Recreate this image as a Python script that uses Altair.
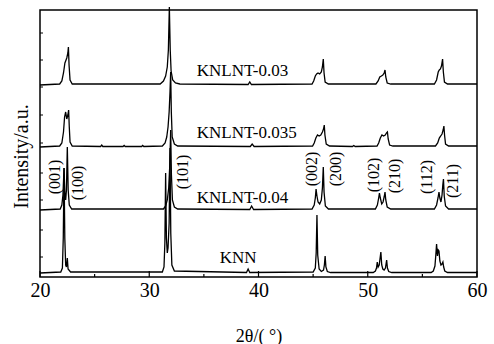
import altair as alt
import pandas as pd

# ---- data (2theta in degrees, intensity above each baseline) ----
series_names = ["KNN", "KNLNT-0.04", "KNLNT-0.035", "KNLNT-0.03"]
series_offsets = [4, 67, 130, 192]

knn_2theta = [20, 21.9, 22.05, 22.13, 22.2, 22.27, 22.35, 22.42, 22.5, 22.57, 22.8,
              31.2, 31.35, 31.43, 31.5, 31.57, 31.65, 31.72, 31.82, 31.9, 31.97, 32.07, 32.3,
              38.9, 39.05, 39.2,
              45.0, 45.2, 45.28, 45.35, 45.42, 45.55, 45.75, 45.95, 46.03, 46.1, 46.17, 46.3, 46.6,
              50.5, 50.7, 50.8, 50.87, 50.95, 51.05, 51.12, 51.2, 51.28, 51.38, 51.5, 51.62, 51.73, 51.8, 51.92, 52.2,
              55.8, 56.0, 56.15, 56.23, 56.3, 56.38, 56.45, 56.52, 56.6, 56.7, 56.8, 56.88, 56.95, 57.05, 57.3, 60]
knn_int = [0, 1, 5, 35, 105, 35, 8, 6, 15, 4, 1,
           1, 6, 30, 100, 35, 20, 25, 50, 125, 40, 8, 2,
           0.5, 4, 0.5,
           1, 5, 20, 58, 18, 4, 1.5, 3, 8, 17, 6, 1.5, 0.5,
           0.5, 2, 5, 11, 6, 8, 14, 21, 8, 4, 3, 5, 13, 5, 1.5, 0.5,
           0.5, 2, 7, 18, 29, 17, 23, 22, 12, 8, 9, 11, 6, 2, 0.5, 0.5]

k004_2theta = [20, 21.85, 22.0, 22.1, 22.2, 22.28, 22.35, 22.42, 22.5, 22.58, 22.68, 22.9,
               31.3, 31.5, 31.65, 31.78, 31.88, 31.96, 32.03, 32.12, 32.3, 32.6,
               39.2, 39.37, 39.55,
               44.9, 45.1, 45.2, 45.27, 45.35, 45.45, 45.6, 45.75, 45.85, 45.93, 46.0, 46.12, 46.4,
               50.7, 50.88, 51.0, 51.07, 51.15, 51.28, 51.4, 51.5, 51.58, 51.65, 51.78, 52.1,
               56.1, 56.3, 56.43, 56.52, 56.6, 56.7, 56.8, 56.87, 56.93, 57.0, 57.12, 57.4, 60]
k004_int = [0, 1, 5, 15, 42, 15, 10, 20, 63, 20, 5, 1,
            1, 4, 10, 22, 45, 80, 35, 10, 3, 1,
            0.5, 4, 0.5,
            1, 5, 12, 21, 14, 8, 6, 10, 22, 43, 18, 4, 1,
            1, 5, 12, 17, 12, 6, 8, 13, 18, 10, 3, 1,
            1, 5, 12, 18, 12, 8, 15, 25, 31, 14, 4, 1, 1]

k0035_2theta = [20, 21.8, 22.0, 22.15, 22.25, 22.35, 22.45, 22.55, 22.62, 22.68, 22.75, 22.95,
                25.55, 25.65, 25.75, 27.6, 27.7, 27.8, 29.3, 29.4, 29.5,
                31.2, 31.45, 31.6, 31.72, 31.82, 31.9, 31.96, 32.02, 32.1, 32.3, 32.6,
                39.25, 39.42, 39.6,
                44.95, 45.1, 45.25, 45.4, 45.55, 45.7, 45.85, 45.95, 46.02, 46.08, 46.2, 46.5,
                48.6, 48.72, 48.85,
                50.85, 51.0, 51.15, 51.3, 51.45, 51.6, 51.72, 51.8, 51.87, 52.0, 52.3,
                56.2, 56.4, 56.55, 56.68, 56.8, 56.9, 56.97, 57.03, 57.12, 57.4, 60]
k0035_int = [0, 1, 4, 15, 30, 35, 28, 32, 37, 20, 5, 1,
             0.5, 2, 0.5, 0.5, 1.5, 0.5, 0.5, 1.5, 0.5,
             1, 4, 10, 20, 35, 55, 75, 35, 10, 3, 1,
             0.5, 3, 0.5,
             1, 4, 9, 12, 11, 12, 15, 18, 22, 12, 3, 1,
             0.5, 1.5, 0.5,
             1, 4, 9, 12, 11, 12, 14, 15, 8, 2, 1,
             1, 4, 9, 11, 13, 17, 21, 12, 3, 1, 1]

k003_2theta = [20, 21.8, 22.0, 22.15, 22.28, 22.35, 22.45, 22.55, 22.6, 22.66, 22.75, 22.95,
               31.0, 31.3, 31.5, 31.65, 31.75, 31.84, 31.92, 32.0, 32.15, 32.4, 32.8,
               39.05, 39.2, 39.35,
               44.9, 45.05, 45.2, 45.32, 45.45, 45.6, 45.75, 45.85, 45.93, 46.0, 46.1, 46.4,
               50.75, 50.95, 51.1, 51.25, 51.38, 51.5, 51.58, 51.65, 51.78, 52.1,
               56.1, 56.3, 56.45, 56.55, 56.65, 56.75, 56.85, 56.92, 57.02, 57.3, 60]
k003_int = [0, 1, 4, 12, 22, 24, 27, 32, 38, 20, 5, 1,
            1, 4, 9, 18, 35, 78, 35, 14, 5, 2, 1,
            0.5, 3, 0.5,
            1, 4, 9, 11, 12, 11, 13, 18, 26, 12, 3, 1,
            1, 4, 8, 9, 10, 12, 15, 8, 2, 1,
            1, 5, 13, 15, 16, 19, 26, 13, 3, 1, 1]

trace_label_2theta = [36.45, 34.35, 34.35, 34.35]
trace_label_y = [14, 74, 139, 201]

peak_labels = ["(001)", "(100)", "(101)", "(002)", "(200)", "(102)", "(210)", "(112)", "(211)"]
peak_label_2theta = [21.37, 23.45, 33.1, 44.94, 47.05, 50.53, 52.45, 55.38, 57.76]
peak_label_y = [100, 94, 105, 108, 108, 102, 101, 100, 96]

x_major = [20, 30, 40, 50, 60]
x_minor = [25, 35, 45, 55]
y_minor = [20, 47, 77, 104, 134, 162, 190, 217, 244]

# ---- build tables ----
all_x = [knn_2theta, k004_2theta, k0035_2theta, k003_2theta]
all_i = [knn_int, k004_int, k0035_int, k003_int]
rows = []
for name, off, xv, yv in zip(series_names, series_offsets, all_x, all_i):
    for k, (a, b) in enumerate(zip(xv, yv)):
        rows.append({"series": name, "tt": a, "y": off + b, "idx": k})
df = pd.DataFrame(rows)

lab_df = pd.DataFrame({"label": series_names, "tt": trace_label_2theta, "y": trace_label_y})
peak_df = pd.DataFrame({"label": peak_labels, "tt": peak_label_2theta, "y": peak_label_y})

FONT = "Liberation Serif"
xs = alt.Scale(domain=[20, 60], nice=False, zero=False)
ys = alt.Scale(domain=[0, 267], nice=False, zero=False)

x_axis = alt.Axis(values=x_major, ticks=False, domain=False, grid=False,
                  labelFont=FONT, labelFontSize=20, labelColor="black",
                  labelPadding=3, labelFlush=False,
                  titleFont=FONT, titleFontSize=18,
                  titleFontWeight="normal", titleColor="black",
                  titleY=64, titleBaseline="alphabetic")
y_axis = alt.Axis(labels=False, ticks=False, domain=False, grid=False,
                  titleFont=FONT, titleFontSize=20,
                  titleFontWeight="normal", titleColor="black",
                  titleX=-9, titleY=146, titleAlign="center", titleAngle=270,
                  titleBaseline="bottom")

XT = "2θ/( °)"
YT = "Intensity/a.u."


def X(field):
    return alt.X(field, scale=xs, axis=x_axis, title=XT)


def Y(field):
    return alt.Y(field, scale=ys, axis=y_axis, title=YT)


lines = alt.Chart(df).mark_line(color="black", strokeWidth=1.3, clip=False).encode(
    x=X("tt:Q"), y=Y("y:Q"), detail="series:N", order="idx:Q")

labels = alt.Chart(lab_df).mark_text(font=FONT, fontSize=17, align="left",
                                     baseline="alphabetic", color="black").encode(
    x=X("tt:Q"), y=Y("y:Q"), text="label:N")

plabels = alt.Chart(peak_df).mark_text(font=FONT, fontSize=16, angle=270, align="center",
                                       baseline="middle", color="black").encode(
    x=X("tt:Q"), y=Y("y:Q"), text="label:N")

xmaj = alt.Chart(pd.DataFrame({"tt": x_major})).mark_rule(color="black", strokeWidth=1.2).encode(
    x=X("tt:Q"), y=alt.value(267), y2=alt.value(261))
xmin = alt.Chart(pd.DataFrame({"tt": x_minor})).mark_rule(color="black", strokeWidth=1.2).encode(
    x=X("tt:Q"), y=alt.value(267), y2=alt.value(264))
ymin = alt.Chart(pd.DataFrame({"y": y_minor})).mark_rule(color="black", strokeWidth=1).encode(
    y=Y("y:Q"), x=alt.value(0), x2=alt.value(3))

chart = alt.layer(lines, labels, plabels, xmaj, xmin, ymin).properties(
    width=437, height=267,
    autosize=alt.AutoSizeParams(type="none"),
    padding={"left": 40, "top": 10, "right": 17, "bottom": 67},
).configure(
    background="white", font=FONT
).configure_view(
    stroke="black", strokeWidth=1.5
).configure_axis(
    labelFont=FONT, titleFont=FONT, labelColor="black", titleColor="black"
)

chart.save("out.html", embed_options={"renderer": "svg", "actions": False})
